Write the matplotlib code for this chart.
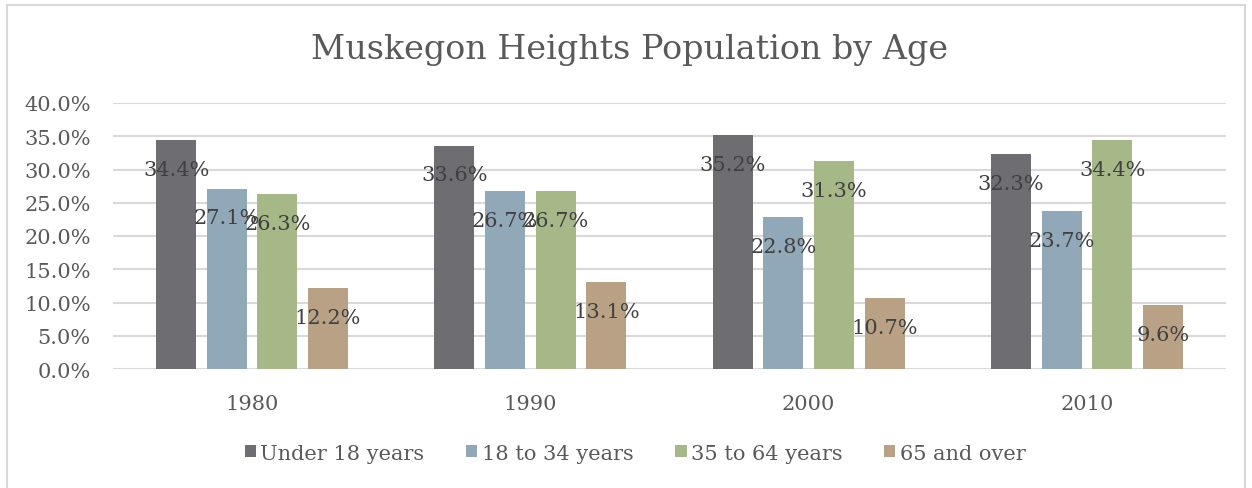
import matplotlib.pyplot as plt
import matplotlib.patches as patches
import numpy as np

years = ['1980', '1990', '2000', '2010']
groups = ['Under 18 years', '18 to 34 years', '35 to 64 years', '65 and over']
under18 = [34.4, 33.6, 35.2, 32.3]
age18_34 = [27.1, 26.7, 22.8, 23.7]
age35_64 = [26.3, 26.7, 31.3, 34.4]
over65 = [12.2, 13.1, 10.7, 9.6]
colors = ['#6e6d72', '#91a8b9', '#a6b788', '#b9a186']

plt.rcParams['font.family'] = ['DejaVu Serif']

fig = plt.figure(figsize=(12.52, 4.89), dpi=100)
ax = fig.add_axes([113/1252, 1 - 370/489, 1113/1252, 266/489])

x = np.arange(len(years))
pitch = 0.182
width = 0.144
series = [under18, age18_34, age35_64, over65]
for i, vals in enumerate(series):
    pos = x + (i - 1.5) * pitch
    ax.bar(pos, vals, width, color=colors[i], label=groups[i], zorder=3)
    for p, v in zip(pos, vals):
        ax.annotate('{:.1f}%'.format(v), (p, v), xytext=(0, -21), textcoords='offset points',
                    ha='center', va='center', fontsize=15, color='#404040', zorder=4)

ax.set_xlim(-0.5, 3.5)
ax.set_ylim(0, 40)
ax.set_yticks(np.arange(0, 41, 5))
ax.set_yticklabels(['{:.1f}%'.format(t) for t in np.arange(0, 41, 5)])
ax.set_xticks(x)
ax.set_xticklabels(years)
ax.tick_params(axis='y', length=0, pad=16, labelsize=15, labelcolor='#595959')
ax.tick_params(axis='x', length=0, pad=18, labelsize=15, labelcolor='#595959')
ax.grid(axis='y', color='#d9d9d9', linewidth=1.5, zorder=0)
for s in ax.spines.values():
    s.set_visible(False)

fig.text(630/1252, 1 - 50/489, 'Muskegon Heights Population by Age', ha='center', va='center',
         fontsize=24, color='#595959')

leg = fig.legend(loc='center', bbox_to_anchor=(635/1252, 1 - 454/489), ncol=4, frameon=False,
                 fontsize=15, labelcolor='#595959', handlelength=0.55, handleheight=0.55,
                 handletextpad=0.2, columnspacing=2.0)

fig.patches.append(patches.Rectangle((7/1252, -0.01), 1238/1252, 1 - 6/489 + 0.01,
                                     transform=fig.transFigure, fill=False,
                                     edgecolor='#d9d9d9', linewidth=1.5))

plt.savefig('out.png')
